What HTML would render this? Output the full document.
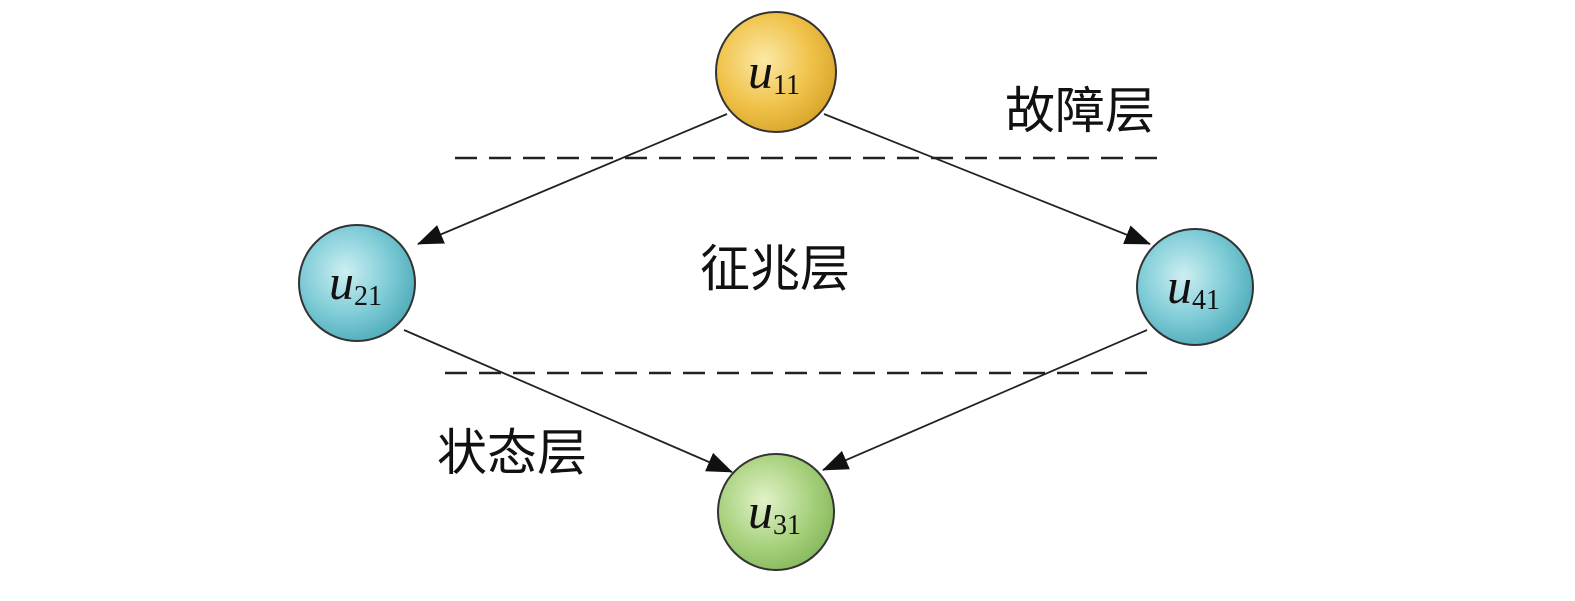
<!DOCTYPE html>
<html><head><meta charset="utf-8"><style>
html,body{margin:0;padding:0;background:#fff;}
</style></head><body>
<svg width="1575" height="596" viewBox="0 0 1575 596" xmlns="http://www.w3.org/2000/svg">
<defs>
<radialGradient id="gy" cx="40%" cy="40%" r="65%"><stop offset="0" stop-color="#fbe9a6"/><stop offset="0.6" stop-color="#f0c24a"/><stop offset="1" stop-color="#d9a52a"/></radialGradient>
<radialGradient id="gb" cx="40%" cy="40%" r="65%"><stop offset="0" stop-color="#cdeef2"/><stop offset="0.6" stop-color="#7ccbd6"/><stop offset="1" stop-color="#4fabb9"/></radialGradient>
<radialGradient id="gg" cx="40%" cy="40%" r="65%"><stop offset="0" stop-color="#e1f2c9"/><stop offset="0.6" stop-color="#a9d27f"/><stop offset="1" stop-color="#86b95c"/></radialGradient>
<marker id="arb" markerWidth="26" markerHeight="20" refX="25" refY="10" orient="auto" markerUnits="userSpaceOnUse" viewBox="0 0 26 20"><path d="M0,0 L26,10 L0,20 Z" fill="#111"/></marker>
</defs>
<g stroke="#222" stroke-width="2.5" stroke-dasharray="22,12">
<line x1="455" y1="158" x2="1168" y2="158"/>
<line x1="445" y1="373" x2="1158" y2="373"/>
</g>
<g stroke="#222" stroke-width="1.8" fill="none">
<line x1="727" y1="114" x2="418" y2="244" marker-end="url(#arb)"/>
<line x1="824" y1="114" x2="1150" y2="244" marker-end="url(#arb)"/>
<line x1="404" y1="330" x2="732" y2="472" marker-end="url(#arb)"/>
<line x1="1147" y1="330" x2="823" y2="470" marker-end="url(#arb)"/>
</g>
<g stroke="#333" stroke-width="2">
<circle cx="776" cy="72" r="60" fill="url(#gy)"/>
<circle cx="357" cy="283" r="58" fill="url(#gb)"/>
<circle cx="1195" cy="287" r="58" fill="url(#gb)"/>
<circle cx="776" cy="512" r="58" fill="url(#gg)"/>
</g>
<g font-family="Liberation Serif, serif" fill="#111">
<text x="748" y="88" font-size="50" font-style="italic">u<tspan font-size="28" font-style="normal" dy="6">11</tspan></text>
<text x="329" y="299" font-size="50" font-style="italic">u<tspan font-size="28" font-style="normal" dy="6">21</tspan></text>
<text x="1167" y="303" font-size="50" font-style="italic">u<tspan font-size="28" font-style="normal" dy="6">41</tspan></text>
<text x="748" y="528" font-size="50" font-style="italic">u<tspan font-size="28" font-style="normal" dy="6">31</tspan></text>
</g>
<g font-family="Liberation Sans, Noto Sans CJK SC, sans-serif" font-size="50" fill="#111">
<text x="1005" y="128">故障层</text>
<text x="700" y="286">征兆层</text>
<text x="437" y="470">状态层</text>
</g>
</svg>
</body></html>
